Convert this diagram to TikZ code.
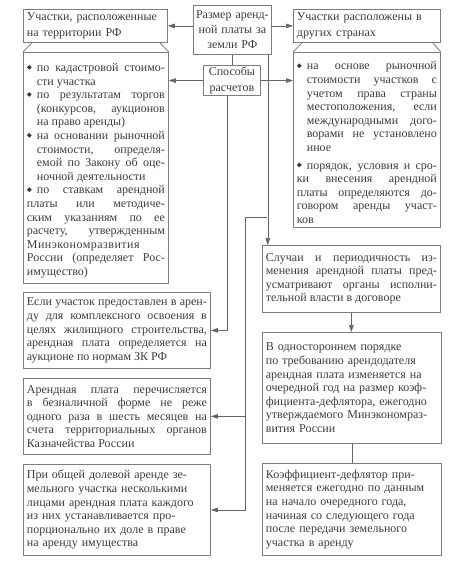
\documentclass[tikz,border=0pt]{standalone}
\usepackage{fontspec}
\setmainfont{Liberation Serif}
\usepackage{graphicx}
\usetikzlibrary{arrows.meta}
\definecolor{linegray}{RGB}{125,125,125}
\definecolor{textgray}{RGB}{60,60,60}
\setlength{\parindent}{0pt}
\newcommand{\dmd}{\raisebox{1.7pt}{\rotatebox{45}{\rule{3.4pt}{3.4pt}}}}
\newcommand{\bitem}{\par\hangindent=10pt\hangafter=1\makebox[10pt][l]{\dmd}}
\newcommand{\bodyfont}{\fontsize{12}{13.6}\selectfont\parindent=0pt}
\newcommand{\headfont}{\fontsize{12}{15.2}\selectfont}

\begin{document}
\begin{tikzpicture}[x=1pt, y=-1pt,
    box/.style={draw=linegray, line width=0.8pt, anchor=north west, inner xsep=3.5pt, inner ysep=2pt, text=textgray, font=\bodyfont},
    link/.style={draw=linegray!80!black, line width=0.6pt},
    arr/.style={link, -{Triangle[length=7pt, width=4.5pt]}}]
  \useasboundingbox (0,0) rectangle (468,570);

  % headers
  \node[box, text width=137pt, minimum height=33pt, font=\headfont, align=left] (lhead) at (23,9) {Участки, расположенные\\на территории РФ};
  \node[box, inner xsep=1pt, text width=76pt, minimum height=49pt, font=\headfont, align=center] (size) at (193,5) {Размер аренд-\\ной платы за\\земли РФ};
  \node[box, text width=140pt, minimum height=33pt, font=\headfont, align=left] (rhead) at (293,9) {Участки расположены в\\других странах};
  \node[box, inner xsep=1pt, text width=55pt, minimum height=30pt, font=\headfont, align=center] (ways) at (203,65) {Способы\\расчетов};

  % ways of calculation
  \node[box, text width=138pt, minimum height=231pt, align=justify] (lbody) at (23,52) {%
    \bitem по кадастровой стоимо-\linebreak сти участка
    \bitem по результатам торгов\linebreak (конкурсов, аукционов\linebreak на право аренды)
    \bitem на основании рыночной\linebreak стоимости, определя-\linebreak емой по Закону об оце-\linebreak ночной деятельности
    \bitem по ставкам арендной\linebreak платы или методиче-\linebreak ским указаниям по ее\linebreak расчету, утвержденным\linebreak {\addfontfeature{LetterSpace=4}Минэкономразвития}\linebreak России (определяет Рос-\linebreak имущество)};
  \node[box, text width=140pt, minimum height=175pt, align=justify] (rbody) at (293,52) {%
    \bitem на основе рыночной\linebreak стоимости участков с\linebreak учетом права страны\linebreak местоположения, если\linebreak международными дого-\linebreak ворами не установлено\linebreak иное
    \par\vspace{4pt}
    \bitem порядок, условия и сро-\linebreak ки внесения арендной\linebreak платы определяются до-\linebreak говором аренды участ-\linebreak ков};

  % right column
  \node[box, text width=171pt, minimum height=67pt, align=justify] (cases) at (262,245) {Случаи и периодичность из-\linebreak менения арендной платы пред-\linebreak усматривают органы исполни-\linebreak тельной власти в договоре};
  \node[box, text width=172pt, minimum height=111pt, align=left] (onesided) at (262,332) {В одностороннем порядке\\по требованию арендодателя\\арендная плата изменяется на\\очередной год на размер коэф-\\фициента-дефлятора, ежегодно\\утверждаемого Минэкономраз-\\вития России};
  \node[box, text width=172pt, minimum height=92pt, align=left] (deflator) at (262,463) {Коэффициент-дефлятор при-\\меняется ежегодно по данным\\на начало очередного года,\\начиная со следующего года\\после передачи земельного\\участка в аренду};

  % left column
  \node[box, text width=180pt, minimum height=76pt, align=justify] (auction) at (23,292) {Если участок предоставлен в арен-\linebreak ду для комплексного освоения в\linebreak целях жилищного строительства,\linebreak арендная плата определяется на\linebreak аукционе по нормам ЗК РФ};
  \node[box, text width=180pt, minimum height=76pt, align=justify] (transfer) at (23,378) {Арендная плата перечисляется\linebreak в безналичной форме не реже\linebreak одного раза в шесть месяцев на\linebreak счета территориальных органов\linebreak Казначейства России};
  \node[box, text width=180pt, minimum height=91pt, align=left] (shared) at (23,464) {При общей долевой аренде зе-\\мельного участка несколькими\\лицами арендная плата каждого\\из них устанавливается про-\\порционально их доле в праве\\на аренду имущества};

  % tabs under the headers
  \draw[draw=linegray, line width=0.8pt] ([xshift=9pt]lhead.south west) -- (lbody.north west)
    ([xshift=-8pt]lhead.south east) -- (lbody.north east);
  \draw[draw=linegray, line width=0.8pt] ([xshift=9pt]rhead.south west) -- (rbody.north west)
    ([xshift=-8pt]rhead.south east) -- (rbody.north east);

  % connectors
  \draw[arr] (lhead.east -| size.west) -- (lhead.east);
  \draw[arr] (rhead.west -| size.east) -- (rhead.west);
  \draw[link] (ways.north |- size.south) -- (ways.north);
  \draw[arr] (ways.west) -- (ways.west -| lbody.east);
  \draw[arr] (ways.east) -- (ways.east -| rbody.west);
  \draw[arr] ([xshift=-5pt]ways.south) |- (auction.east);
  \coordinate (drop) at ([xshift=-4pt]size.south east);
  \draw[arr] (drop) -- (drop |- cases.north);
  \coordinate (split) at (267,217);
  \coordinate (trunk) at (245,217);
  \draw[arr] (split) -- (trunk) |- (shared.east);
  \draw[arr] (trunk |- transfer.east) -- (transfer.east);
  \draw[arr] (cases.south) -- (cases.south |- onesided.north);
  \draw[link] (onesided.south) -- (onesided.south |- deflator.north);
\end{tikzpicture}
\end{document}
